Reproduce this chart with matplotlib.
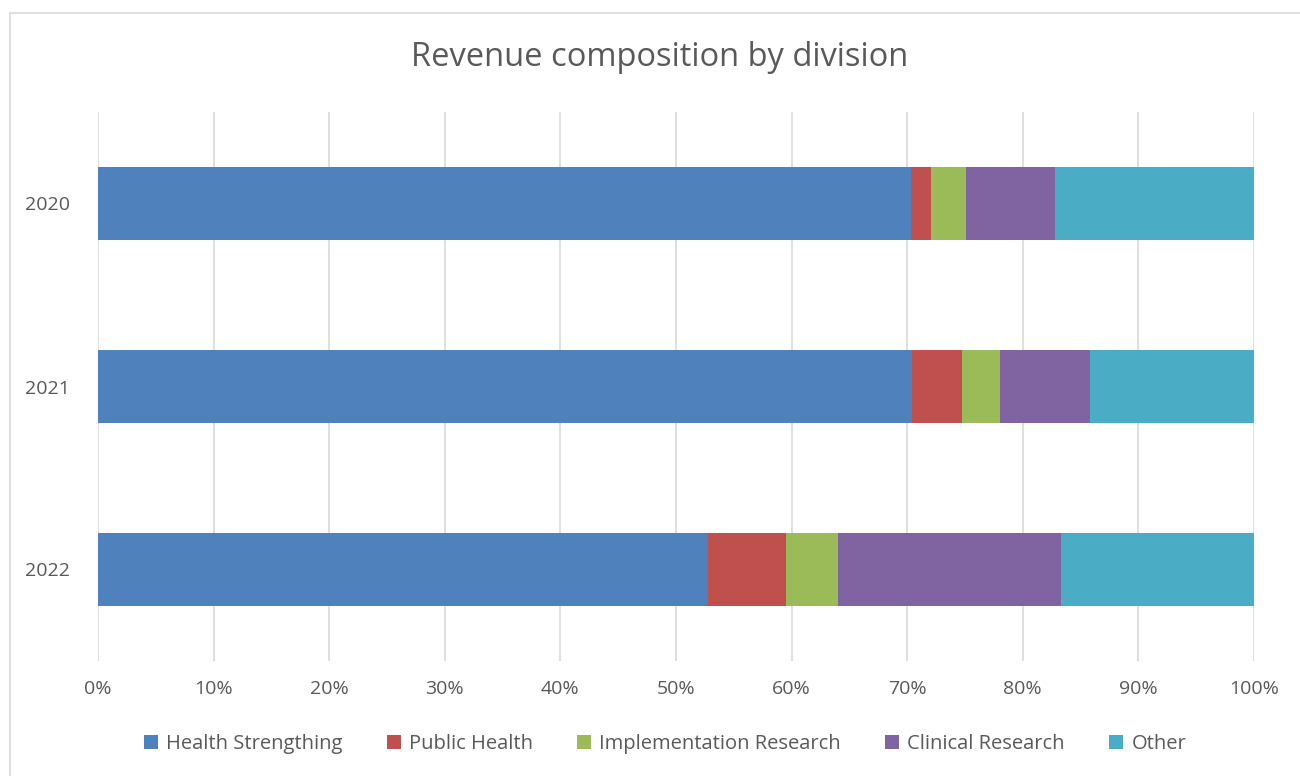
import matplotlib
matplotlib.use("Agg")
import matplotlib.pyplot as plt
import matplotlib.patches as patches
import numpy as np

# Datos (porcentajes)
years = ["2020", "2021", "2022"]
health_strengthing = [70.3, 70.4, 52.8]
public_health = [1.8, 4.3, 6.7]
implementation_research = [3.0, 3.3, 4.5]
clinical_research = [7.7, 7.8, 19.3]
other = [17.2, 14.2, 16.7]

series = [
    ("Health Strengthing", health_strengthing, "#4f81bd"),
    ("Public Health", public_health, "#c0504d"),
    ("Implementation Research", implementation_research, "#9bbb59"),
    ("Clinical Research", clinical_research, "#8064a2"),
    ("Other", other, "#4bacc6"),
]

plt.rcParams['font.family'] = ['Open Sans', 'DejaVu Sans']
TEXT = "#595959"

fig = plt.figure(figsize=(13, 7.76), dpi=100)
ax = fig.add_axes([98 / 1300, 1 - 661 / 776, (1254 - 98) / 1300, (661 - 112) / 776])

# Borde del gráfico
fig.patches.append(patches.Rectangle((10 / 1300, -0.01), 1.02, 1 - 13 / 776 + 0.01,
                                     transform=fig.transFigure, fill=False,
                                     edgecolor="#d9d9d9", linewidth=1.2))

y = np.arange(len(years))
left = np.zeros(len(years))
for name, vals, color in series:
    vals = np.array(vals)
    ax.barh(y, vals, left=left, height=0.4, color=color, label=name, zorder=3)
    left += vals

ax.set_xlim(0, 100)
ax.set_ylim(len(years) - 0.5, -0.5)
ax.set_yticks(y)
ax.set_yticklabels(years)
ax.set_xticks(np.arange(0, 101, 10))
ax.set_xticklabels([f"{v}%" for v in range(0, 101, 10)])
ax.tick_params(axis='both', length=0, labelsize=14, labelcolor=TEXT)
ax.tick_params(axis='x', pad=14)
ax.tick_params(axis='y', pad=20)
ax.grid(axis='x', color="#d9d9d9", linewidth=1.2, zorder=0)
for s in ax.spines.values():
    s.set_visible(False)

fig.text(660 / 1300, 1 - 58 / 776, "Revenue composition by division",
         ha='center', va='center', fontsize=23.5, color=TEXT)

fig.legend(loc='center', bbox_to_anchor=(665 / 1300, 1 - 744 / 776), ncol=5,
           frameon=False, fontsize=14.5, labelcolor=TEXT, handlelength=0.7,
           handleheight=0.7, handletextpad=0.4, columnspacing=2.2)

plt.savefig("out.png", dpi=100)
